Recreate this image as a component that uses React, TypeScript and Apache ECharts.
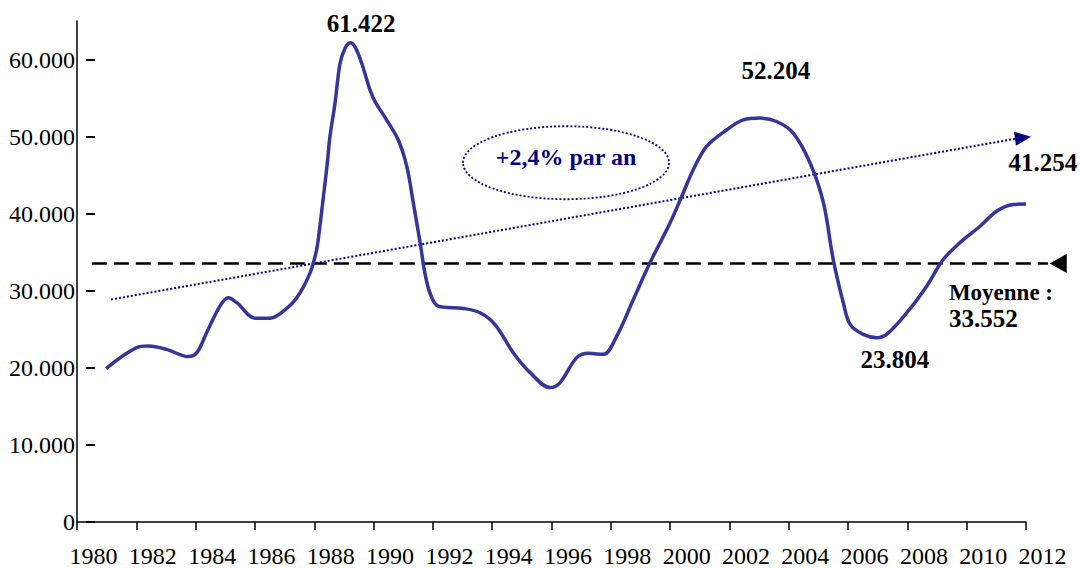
import React, { useEffect, useRef } from "react";
import * as echarts from "echarts";

// ---- data ----
const years = [
  1980.98, 1982.01, 1982.4, 1983.02, 1983.75, 1984.04, 1984.37, 1984.82, 1985.1, 1985.39,
  1986.0, 1986.51, 1986.96, 1987.41, 1987.86, 1988.08, 1988.19, 1988.31, 1988.44, 1988.53,
  1988.7, 1988.87, 1989.04, 1989.21, 1989.37, 1989.6, 1989.88, 1990.05, 1990.44, 1990.83,
  1991.12, 1991.34, 1991.57, 1991.73, 1991.9, 1992.18, 1993.03, 1993.59, 1994.09, 1994.71,
  1995.28, 1995.95, 1996.29, 1996.85, 1997.24, 1997.75, 1998.2, 1998.76, 1999.32, 2000.0,
  2000.44, 2000.78, 2001.23, 2001.91, 2002.47, 2003.03, 2003.59, 2004.15, 2004.72, 2005.17,
  2005.5, 2005.84, 2006.07, 2006.51, 2006.97, 2007.3, 2007.98, 2008.65, 2009.21, 2009.77,
  2010.45, 2011.01, 2011.57, 2012.0,
];
const values = [
  19900, 22620, 22830, 22400, 21460, 21970, 24560, 28010, 29090, 28450,
  26450, 26450, 27360, 29090, 32330, 35350, 38370, 42250, 46570, 50020,
  54340, 59520, 61470, 62190, 61670, 59520, 56070, 54550, 52180, 49590,
  46140, 41400, 36220, 32330, 29740, 28010, 27710, 27150, 25640, 21970,
  19380, 17440, 18090, 21330, 21880, 21750, 24120, 28870, 33630, 38810,
  42690, 45710, 48730, 50890, 52180, 52400, 51960, 50460, 46570, 41400,
  34050, 28450, 25640, 24340, 23920, 24340, 27150, 30600, 34050, 36220,
  38370, 40310, 41180, 41254,
];
const yTickValues = [0, 10000, 20000, 30000, 40000, 50000, 60000];
const xMin = 1980;
const xMax = 2012;
const yMax = 65000;

const meanValue = 33552;
const meanLineYears = [1980.5, 2012.74];
const meanTipYear = 2012.8;

const trendStart = [1981.15, 28870];
const trendEnd = [2011.63, 49720];
const trendTip = [2012.17, 49980];

const ellipseCenter = [1996.49, 46610];
const trendLabel = "+2,4% par an";
const trendLabelAt = [1996.49, 47400];

const annotationTexts = ["61.422", "52.204", "41.254", "23.804", "Moyenne :", "33.552"];
const annotationAnchors = [
  [1989.58, 64680],
  [2003.57, 58590],
  [2012.57, 46680],
  [2007.58, 21110],
  [2009.4, 29780],
  [2009.4, 26390],
];
const annotationAlign = ["center", "center", "center", "center", "left", "left"];
const annotationSize = [25, 25, 25, 25, 23, 25];

const FONT = "'Liberation Serif', 'DejaVu Serif', serif";
const LINE_COLOR = "#35359c";
const NAVY = "#000080";

const fmtThousands = (v: number) =>
  String(Math.round(v)).replace(/\B(?=(\d{3})+(?!\d))/g, ".");

export default function App() {
  const ref = useRef<HTMLDivElement>(null);

  useEffect(() => {
    if (!ref.current) return;
    const chart = echarts.init(ref.current, null, { renderer: "svg" });
    const option: any = {
      animation: false,
      grid: { left: 77, right: 54, top: 21, bottom: 45, containLabel: false },
      xAxis: {
        type: "value",
        min: xMin,
        max: xMax,
        interval: 2,
        axisLine: { lineStyle: { color: "#000", width: 1.5 } },
        axisTick: { show: true, length: 8, lineStyle: { color: "#000", width: 1.5 } },
        axisLabel: {
          formatter: (v: number) => String(v),
          color: "#000",
          fontFamily: FONT,
          fontSize: 24,
          margin: 22,
          padding: [0, 0, 0, 33],
          showMinLabel: true,
          showMaxLabel: true,
        },
        splitLine: { show: false },
      },
      yAxis: [
        {
          type: "value",
          min: 0,
          max: yMax,
          interval: 10000,
          axisLine: { show: true, lineStyle: { color: "#000", width: 1.5 } },
          axisTick: { show: false },
          axisLabel: {
            customValues: yTickValues,
            formatter: (v: number) => (v % 10000 === 0 && v <= 60000 ? fmtThousands(v) : ""),
            color: "#000",
            fontFamily: FONT,
            fontSize: 24,
            margin: 2,
          },
          splitLine: { show: false },
        },
        {
          type: "value",
          min: 0,
          max: yMax,
          interval: 10000,
          position: "left",
          offset: -9,
          axisLine: { show: false },
          axisLabel: { show: false },
          axisTick: {
            show: true,
            inside: true,
            length: 9,
            customValues: yTickValues,
            lineStyle: { color: "#000", width: 2 },
          },
          splitLine: { show: false },
        },
      ],
      series: [
        {
          type: "line",
          yAxisIndex: 0,
          data: years.map((y, i) => [y, values[i]]),
          showSymbol: false,
          smooth: 0.35,
          lineStyle: { color: LINE_COLOR, width: 3.5 },
          z: 3,
        },
      ],
    };
    chart.setOption(option);

    const px = (p: number[]) => chart.convertToPixel({ gridIndex: 0 } as any, p) as number[];

    const ms = px([meanLineYears[0], meanValue]);
    const me = px([meanLineYears[1], meanValue]);
    const mt = px([meanTipYear, meanValue]);

    const ts = px(trendStart);
    const te = px(trendEnd);
    const tt = px(trendTip);
    const dx = tt[0] - te[0];
    const dy = tt[1] - te[1];
    const len = Math.hypot(dx, dy) || 1;
    const nx = -dy / len;
    const ny = dx / len;
    const hw = 7;

    const ec = px(ellipseCenter);
    const tl = px(trendLabelAt);

    const graphics: any[] = [
      {
        type: "line",
        z: 1,
        shape: { x1: ms[0], y1: ms[1], x2: me[0], y2: me[1] },
        style: { stroke: "#000", lineWidth: 2.5, lineDash: [15, 7] },
      },
      {
        type: "polygon",
        z: 1,
        shape: {
          points: [
            [mt[0], mt[1]],
            [mt[0] + 17, mt[1] - 9.5],
            [mt[0] + 17, mt[1] + 9.5],
          ],
        },
        style: { fill: "#000" },
      },
      {
        type: "line",
        z: 1,
        shape: { x1: ts[0], y1: ts[1], x2: te[0], y2: te[1] },
        style: { stroke: NAVY, lineWidth: 2, lineDash: [2, 2] },
      },
      {
        type: "polygon",
        z: 1,
        shape: {
          points: [
            [tt[0], tt[1]],
            [te[0] + nx * hw, te[1] + ny * hw],
            [te[0] - nx * hw, te[1] - ny * hw],
          ],
        },
        style: { fill: NAVY },
      },
      {
        type: "ellipse",
        z: 1,
        shape: { cx: ec[0], cy: ec[1], rx: 103, ry: 36.5 },
        style: { fill: "none", stroke: NAVY, lineWidth: 1.8, lineDash: [2, 2] },
      },
      {
        type: "text",
        z: 5,
        x: tl[0],
        y: tl[1],
        style: {
          text: trendLabel,
          fill: NAVY,
          font: `bold 24px ${FONT}`,
          textAlign: "center",
          textVerticalAlign: "middle",
        },
      },
    ];
    annotationTexts.forEach((t, i) => {
      const p = px(annotationAnchors[i]);
      graphics.push({
        type: "text",
        z: 5,
        x: p[0],
        y: p[1],
        style: {
          text: t,
          fill: "#000",
          font: `bold ${annotationSize[i]}px ${FONT}`,
          textAlign: annotationAlign[i],
          textVerticalAlign: "middle",
        },
      });
    });
    chart.setOption({ graphic: graphics });

    return () => chart.dispose();
  }, []);

  return (
    <div
      ref={ref}
      style={{ position: "absolute", left: 0, top: 0, width: 1080, height: 568 }}
    />
  );
}
